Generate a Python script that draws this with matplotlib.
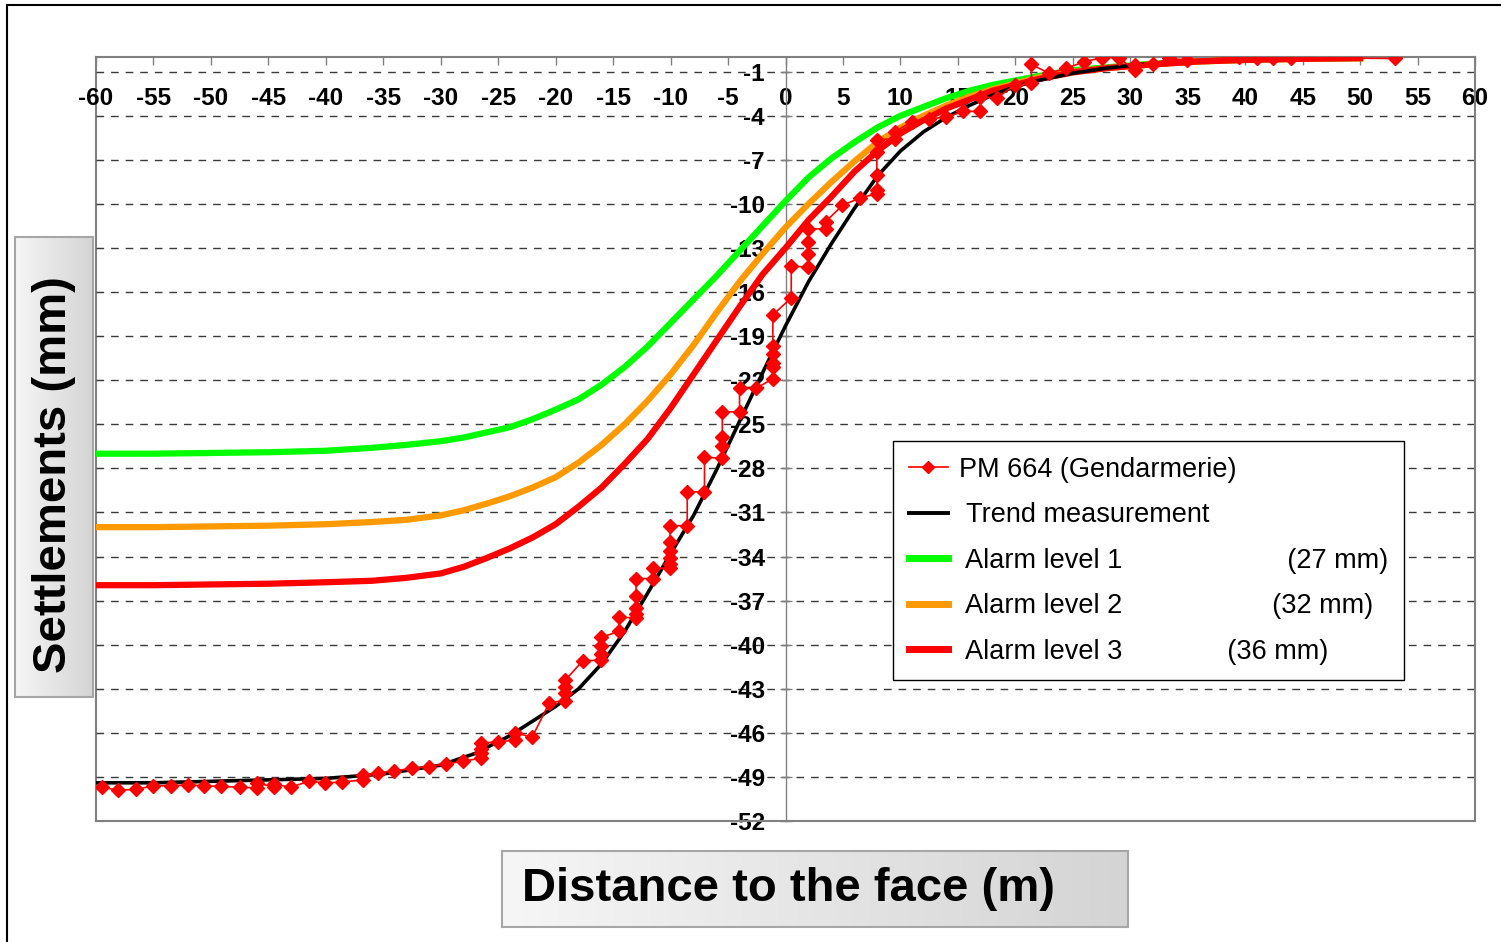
import numpy as np
import matplotlib
matplotlib.use("Agg")
import matplotlib.pyplot as plt
from matplotlib.lines import Line2D
from matplotlib.colors import LinearSegmentedColormap

plt.rcParams['font.family'] = ['Liberation Sans', 'DejaVu Sans']
plt.rcParams['axes.unicode_minus'] = False

# PM 664 readings, distance to face (m) / settlement (mm)
pm_dist = [-61.0, -59.5, -58.05, -56.5, -55.0, -53.5, -52.0, -50.6, -49.1, -47.5,
           -46.0, -46.0, -44.5, -44.5, -43.05, -41.5, -40.05, -38.55, -36.8, -36.8,
           -35.5, -34.05, -32.5, -31.05, -29.55, -28.05,
           -26.5, -26.5, -26.5, -26.5, -25.0, -23.5, -23.5, -22.05, -20.55,
           -19.15, -19.15, -19.15, -19.15, -17.65, -16.05, -16.05, -16.05, -16.05,
           -14.5, -14.5, -13.0, -13.0, -13.0, -13.0, -13.0, -11.5, -11.5,
           -10.05, -10.05, -10.05, -10.05, -10.05, -10.05, -8.55, -8.55, -7.05, -7.05,
           -5.5, -5.5, -5.5, -5.5, -4.0, -4.0, -2.55,
           -1.1, -1.1, -1.1, -1.1, -1.1, -1.1, 0.5, 0.5, 2.0, 2.0, 2.0, 2.0,
           3.5, 3.5, 4.95, 6.45, 7.95, 7.95, 7.95, 7.95, 7.95, 9.5, 9.5,
           11.0, 12.5, 14.0, 15.45, 16.95, 16.95, 18.4, 19.95, 21.4, 21.4,
           22.9, 24.45, 26.0, 27.5, 29.0, 30.4, 30.4, 32.0, 33.4, 34.9,
           39.5, 41.0, 42.4, 44.0, 53.0]
pm_settl = [-49.6, -49.7, -49.9, -49.85, -49.6, -49.6, -49.55, -49.6, -49.65, -49.7,
            -49.75, -49.4, -49.7, -49.5, -49.7, -49.3, -49.4, -49.35, -49.2, -48.9,
            -48.7, -48.6, -48.4, -48.3, -48.1, -47.95,
            -47.7, -47.4, -47.1, -46.7, -46.6, -46.5, -46.0, -46.3, -43.95,
            -43.8, -43.3, -42.9, -42.4, -41.1, -41.05, -40.6, -40.1, -39.5,
            -39.1, -38.1, -38.2, -37.9, -37.5, -36.7, -35.5, -35.5, -34.8,
            -34.8, -34.5, -34.1, -33.6, -33.0, -31.9, -31.9, -29.6, -29.6, -27.25,
            -27.3, -26.5, -25.85, -24.15, -24.15, -22.55, -22.55,
            -21.9, -21.1, -20.85, -20.2, -19.7, -17.55, -16.4, -14.25, -14.3, -13.4, -12.6, -11.7,
            -11.7, -11.2, -10.1, -9.6, -9.3, -9.05, -8.0, -6.45, -5.65, -5.55, -5.1,
            -4.4, -4.2, -4.1, -3.7, -3.7, -2.7, -2.8, -1.9, -1.8, -0.5,
            -1.1, -0.77, -0.32, -0.05, -0.05, -0.9, -0.55, -0.5, -0.1, -0.2,
            -0.02, -0.1, -0.05, -0.05, -0.1]

# trend curve
trend_dist = [-60, -55, -50, -45, -40, -35, -30, -27, -24, -22, -20, -18, -16, -14, -12,
              -10, -8, -6, -4, -2, 0, 2, 4, 6, 8, 10, 12, 14, 16, 18, 20, 22, 25, 28, 31]
trend_settl = [-49.4, -49.4, -49.3, -49.2, -49.1, -48.8, -48.2, -47.4, -46.2, -45.2, -44.2,
               -43.0, -41.3, -39.1, -36.5, -33.8, -31.2, -28.1, -24.8, -21.5, -18.3,
               -15.3, -12.7, -10.3, -8.1, -6.4, -5.1, -4.1, -3.3, -2.6, -2.0, -1.6,
               -1.1, -0.75, -0.5]

# alarm curves
alarm_dist = [-60, -55, -50, -45, -40, -36, -33, -30, -28, -26, -24, -22, -20, -18, -16,
              -14, -12, -10, -8, -6, -4, -2, 0, 2, 4, 6, 8, 10, 12, 14, 16, 18, 20, 22,
              25, 28, 32, 36, 40, 45, 50]
alarm1 = [-27.0, -27.0, -26.95, -26.9, -26.8, -26.6, -26.4, -26.15, -25.9, -25.55, -25.2,
          -24.65, -24.0, -23.3, -22.3, -21.1, -19.7, -18.1, -16.5, -14.9, -13.2, -11.5,
          -9.8, -8.2, -6.9, -5.8, -4.8, -4.0, -3.4, -2.8, -2.3, -1.9, -1.6, -1.3,
          -0.9, -0.7, -0.45, -0.3, -0.2, -0.12, -0.08]
alarm2 = [-32.0, -32.0, -31.95, -31.9, -31.8, -31.65, -31.5, -31.2, -30.85, -30.4, -29.9,
          -29.3, -28.6, -27.6, -26.4, -25.0, -23.4, -21.6, -19.6, -17.4, -15.3, -13.4,
          -11.6, -10.0, -8.5, -7.1, -5.8, -4.8, -4.0, -3.3, -2.7, -2.2, -1.8, -1.4,
          -1.0, -0.75, -0.5, -0.3, -0.2, -0.12, -0.08]
alarm3 = [-35.95, -35.95, -35.9, -35.85, -35.75, -35.65, -35.45, -35.15, -34.7, -34.1, -33.45,
          -32.7, -31.8, -30.6, -29.3, -27.7, -26.0, -23.9, -21.6, -19.3, -17.0, -14.8,
          -13.0, -11.1, -9.5, -7.8, -6.4, -5.2, -4.3, -3.5, -2.9, -2.3, -1.9, -1.5,
          -1.05, -0.75, -0.5, -0.3, -0.2, -0.12, -0.08]
alarm_labels = ['Alarm level 1', 'Alarm level 2', 'Alarm level 3']
alarm_mm = ['(27 mm)', '(32 mm)', '(36 mm)']
alarm_gaps = [22, 20, 14]

x_ticks = list(range(-60, 61, 5))
y_ticks = list(range(-52, 0, 3))

W, H = 1501, 942


def px_box(x0, y0, x1, y1):
    return [x0 / W, 1 - y1 / H, (x1 - x0) / W, (y1 - y0) / H]


def label_box(rect, text, rotation, tx, ty, ha):
    bax = fig.add_axes(px_box(*rect))
    cmap = LinearSegmentedColormap.from_list('box', ['#f6f6f6', '#d4d4d4'])
    bax.imshow(np.linspace(0, 1, 256).reshape(1, -1), cmap=cmap, aspect='auto',
               extent=(0, 1, 0, 1))
    bax.set_xticks([])
    bax.set_yticks([])
    for sp in bax.spines.values():
        sp.set_color('#a6a6a6')
        sp.set_linewidth(1.5)
    bax.text(tx, ty, text, rotation=rotation, ha=ha, va='center', fontsize=34,
             fontweight='bold', transform=bax.transAxes)


fig = plt.figure(figsize=(W / 100, H / 100), dpi=100)
ax = fig.add_axes(px_box(96, 57, 1475, 821))

ax.plot(alarm_dist, alarm1, color='#00ff00', lw=4.5, zorder=3, solid_joinstyle='round')
ax.plot(alarm_dist, alarm2, color='#ff9900', lw=4.5, zorder=3, solid_joinstyle='round')
ax.plot(alarm_dist, alarm3, color='#ff0000', lw=4.5, zorder=3, solid_joinstyle='round')
ax.plot(trend_dist, trend_settl, color='black', lw=2.6, zorder=4, solid_joinstyle='round')
ax.plot(pm_dist, pm_settl, color='#ff0000', lw=1.2, marker='D', markersize=7,
        markeredgecolor='#ff0000', zorder=5)

ax.set_xlim(-60, 60)
ax.set_ylim(-52, 0)

gray = '#808080'
ax.spines['left'].set_position(('data', 0))
ax.spines['left'].set_color(gray)
ax.spines['left'].set_linewidth(1)
for side in ['top', 'bottom', 'right']:
    ax.spines[side].set_color(gray)
    ax.spines[side].set_linewidth(1.5)

ax.set_yticks(y_ticks, [str(v) for v in y_ticks], fontsize=17.5, fontweight='bold')
ax.tick_params(axis='y', direction='inout', length=8, width=1, color=gray, pad=11)
ax.xaxis.set_ticks_position('top')
ax.set_xticks(x_ticks, [str(v) for v in x_ticks], fontsize=17.5, fontweight='bold')
ax.tick_params(axis='x', direction='in', length=6, width=1, color=gray, pad=-38,
               labeltop=True, labelbottom=False)
ax.yaxis.grid(True, linestyle=(0, (5.5, 5)), color='#3a3a3a', lw=1, zorder=1)
ax.set_axisbelow(True)

# left frame with small ticks
sec = ax.secondary_yaxis('left')
sec.set_yticks(y_ticks)
sec.tick_params(direction='in', length=5, color=gray, labelleft=False)
sec.spines['left'].set_color(gray)
sec.spines['left'].set_linewidth(1.5)

handles = [Line2D([], [], color='#ff0000', lw=1.2, marker='D', markersize=6.5),
           Line2D([], [], color='black', lw=2.8),
           Line2D([], [], color='#00ff00', lw=5),
           Line2D([], [], color='#ff9900', lw=5),
           Line2D([], [], color='#ff0000', lw=5)]
labels = ['PM 664 (Gendarmerie)', ' Trend measurement']
for name, mm, gap in zip(alarm_labels, alarm_mm, alarm_gaps):
    labels.append(' ' + name + ' ' * gap + mm)
leg = ax.legend(handles, labels, loc='upper left', bbox_to_anchor=(893 / W, 1 - 441 / H),
                bbox_transform=fig.transFigure, borderaxespad=0, fontsize=19.5,
                handlelength=1.45, handletextpad=0.4, borderpad=0.58, labelspacing=0.72,
                fancybox=False, framealpha=1, edgecolor='black')
leg.get_frame().set_linewidth(1)
leg.set_zorder(10)

label_box((15, 237, 93, 697), 'Settlements (mm)', 90, 0.5, 0.483, 'center')
label_box((502, 851, 1128, 927), 'Distance to the face (m)', 0, 0.032, 0.5, 'left')

# outer chart border
fig.add_artist(Line2D([7 / W, 7 / W], [0, 1 - 5 / H], color='black', lw=1.5))
fig.add_artist(Line2D([7 / W, 1], [1 - 5 / H, 1 - 5 / H], color='black', lw=1.5))

fig.savefig('out.png', dpi=100)
